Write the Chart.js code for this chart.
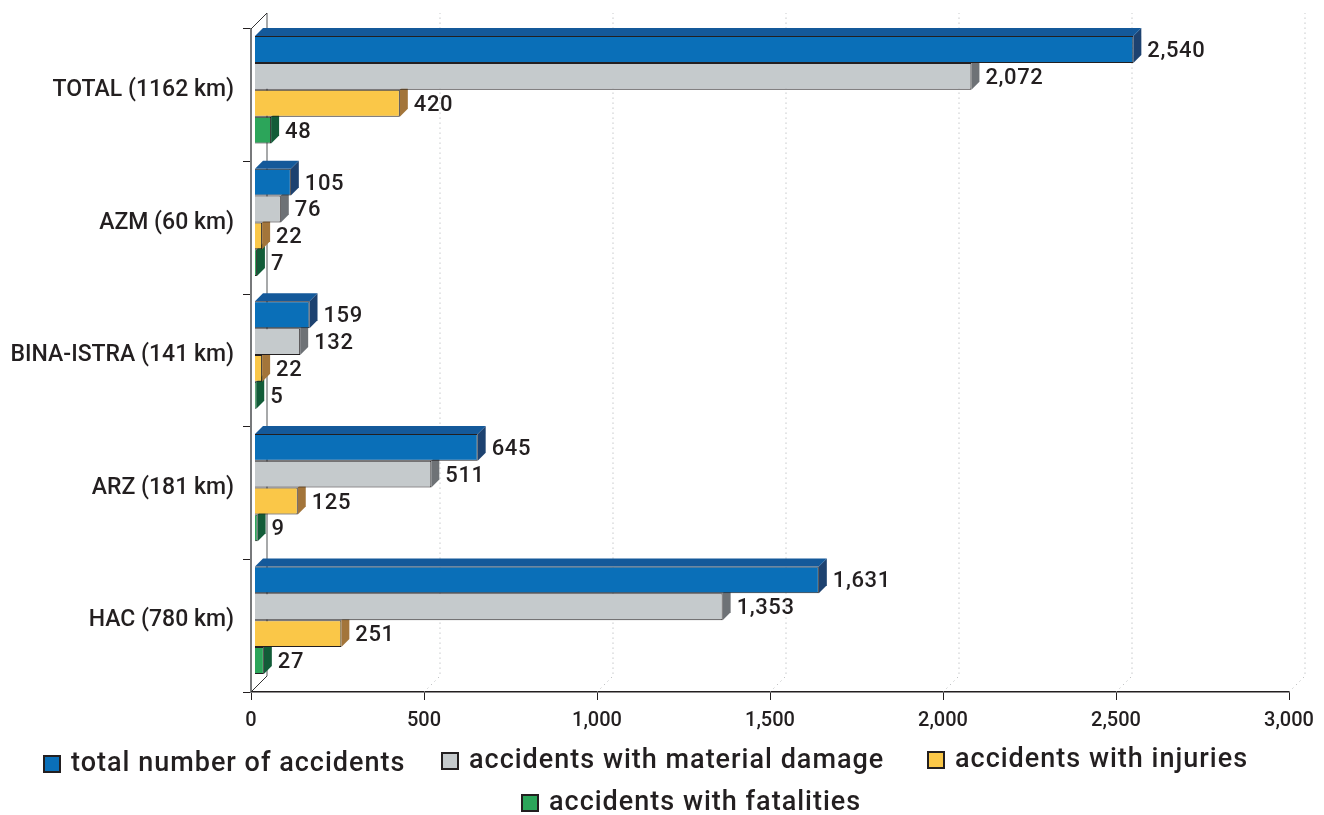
<!DOCTYPE html>
<html>
<head>
<meta charset="utf-8">
<title>Accidents</title>
<script src="https://cdn.jsdelivr.net/npm/chart.js@4"></script>
<style>
  body { margin: 0; background: #fff; }
  canvas { display: block; }
</style>
</head>
<body>
<canvas id="accidentsChart" width="1324" height="815"></canvas>
<script>
// Values
const categories = ['TOTAL (1162 km)', 'AZM (60 km)', 'BINA-ISTRA (141 km)', 'ARZ (181 km)', 'HAC (780 km)'];
const totalAccidents = [2540, 105, 159, 645, 1631];
const materialDamage = [2072, 76, 132, 511, 1353];
const withInjuries = [420, 22, 22, 125, 251];
const withFatalities = [48, 7, 5, 9, 27];
const seriesNames = ['total number of accidents', 'accidents with material damage', 'accidents with injuries', 'accidents with fatalities'];
const xTicks = [0, 500, 1000, 1500, 2000, 2500, 3000];

const frontColors = ['#0a6fb8', '#c5cacc', '#fac748', '#2ca55a'];
const sideColors = ['#1d4270', '#6e7276', '#a3753a', '#125c38'];
const topColor = '#14599a';
const textColor = '#231f20';
const fontName = 'Roboto, sans-serif';

const barDepth = 8;     // slant of the bar's side face
const wallDepth = 16;   // slant of the back wall
const barShift = { x: 3.5, y: -5.5 };

// Back wall, dotted gridlines and floor diagonals
const wallPlugin = {
    id: 'wall',
    beforeDatasetsDraw(chart) {
        const c = chart.ctx, area = chart.chartArea, x = chart.scales.x;
        c.save();
        xTicks.slice(1).forEach(v => {
            const px = x.getPixelForValue(v);
            c.beginPath();
            c.setLineDash([1, 4]);
            c.strokeStyle = '#a9acae';
            c.lineWidth = 1;
            c.moveTo(px, area.bottom);
            c.lineTo(px + wallDepth, area.bottom - wallDepth);
            c.lineTo(px + wallDepth, area.top - wallDepth);
            c.stroke();
        });
        c.setLineDash([]);
        const x0 = x.getPixelForValue(0);
        c.strokeStyle = '#8a8c8e';
        c.lineWidth = 1.5;
        c.beginPath();
        c.moveTo(x0 + wallDepth, area.top - wallDepth);
        c.lineTo(x0 + wallDepth, area.bottom - wallDepth);
        c.stroke();
        c.strokeStyle = '#333';
        c.lineWidth = 1;
        c.beginPath();
        c.moveTo(x0, area.top);
        c.lineTo(x0 + wallDepth, area.top - wallDepth);
        c.moveTo(x0, area.bottom);
        c.lineTo(x0 + wallDepth, area.bottom - wallDepth);
        c.stroke();
        c.restore();
        // bars sit a little off the front plane
        c.save();
        c.translate(barShift.x, barShift.y);
    },
    beforeDatasetDraw(chart, args) {
        const c = chart.ctx;
        args.meta.data.forEach(bar => {
            const top = bar.y - bar.height / 2, bottom = bar.y + bar.height / 2;
            c.fillStyle = sideColors[args.index];
            c.beginPath();
            c.moveTo(bar.x, top);
            c.lineTo(bar.x + barDepth, top - barDepth);
            c.lineTo(bar.x + barDepth, bottom - barDepth);
            c.lineTo(bar.x, bottom);
            c.closePath();
            c.fill();
            if (args.index === 0) {
                c.fillStyle = topColor;
                c.beginPath();
                c.moveTo(bar.base, top);
                c.lineTo(bar.base + barDepth, top - barDepth);
                c.lineTo(bar.x + barDepth, top - barDepth);
                c.lineTo(bar.x, top);
                c.closePath();
                c.fill();
            }
        });
    },
    afterDatasetsDraw(chart) {
        chart.ctx.restore();
    }
};

// Number next to every bar
const valueLabelPlugin = {
    id: 'valueLabels',
    afterDatasetsDraw(chart) {
        const c = chart.ctx;
        c.save();
        c.font = '500 22px ' + fontName;
        c.letterSpacing = '0.6px';
        c.fillStyle = textColor;
        c.textBaseline = 'middle';
        chart.data.datasets.forEach((ds, i) => {
            chart.getDatasetMeta(i).data.forEach((bar, j) => {
                c.fillText(ds.data[j].toLocaleString('en-US'), bar.x + barShift.x + barDepth + 6, bar.y + barShift.y + 2);
            });
        });
        c.restore();
    }
};

// Hand placed legend, the rows are not straight in the original
const legendSpots = [[44, 764], [442, 761], [928, 760], [522, 803]];
const legendPlugin = {
    id: 'looseLegend',
    afterDraw(chart) {
        const c = chart.ctx;
        c.save();
        c.font = '500 27px ' + fontName;
        c.letterSpacing = '1px';
        c.textBaseline = 'middle';
        seriesNames.forEach((name, i) => {
            const [lx, ly] = legendSpots[i];
            c.fillStyle = frontColors[i];
            c.strokeStyle = '#231f20';
            c.lineWidth = 2;
            c.fillRect(lx, ly - 8, 16, 16);
            c.strokeRect(lx, ly - 8, 16, 16);
            c.fillStyle = textColor;
            c.fillText(name, lx + 27, ly);
        });
        c.restore();
    }
};

const ctx = document.getElementById('accidentsChart').getContext('2d');
const accidentsChart = new Chart(ctx, {
    type: 'bar',
    data: {
        labels: categories,
        datasets: [totalAccidents, materialDamage, withInjuries, withFatalities].map((values, i) => ({
            label: seriesNames[i],
            data: values,
            backgroundColor: frontColors[i],
            borderColor: '#231f20',
            borderWidth: 1,
            categoryPercentage: 0.81,
            barPercentage: 1
        }))
    },
    options: {
        indexAxis: 'y',
        responsive: false,
        animation: false,
        layout: { padding: { top: 29, right: 35, left: 0, bottom: 0 } },
        plugins: { legend: { display: false }, tooltip: { enabled: false } },
        scales: {
            x: {
                min: 0,
                max: 3000,
                afterFit(scale) { scale.height = 123; },
                afterBuildTicks(scale) { scale.ticks = xTicks.map(value => ({ value })); },
                border: { color: '#231f20', width: 1.5 },
                grid: { drawOnChartArea: false, color: '#231f20', tickLength: 8 },
                ticks: {
                    color: textColor,
                    font: { family: fontName, size: 20, weight: '500' },
                    padding: 9,
                    maxRotation: 0,
                    callback: v => v.toLocaleString('en-US')
                }
            },
            y: {
                afterFit(scale) { scale.width = 251; },
                border: { color: '#77797b', width: 2 },
                grid: { drawOnChartArea: false, color: '#231f20', tickLength: 8 },
                ticks: {
                    color: textColor,
                    font: { family: fontName, size: 23, weight: '500' },
                    padding: 9,
                    labelOffset: -5
                }
            }
        }
    },
    plugins: [wallPlugin, valueLabelPlugin, legendPlugin]
});
</script>
</body>
</html>
